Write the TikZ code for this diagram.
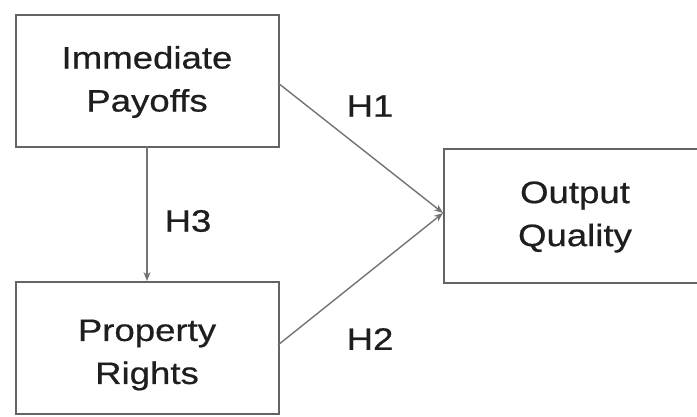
\documentclass[tikz,border=0pt]{standalone}
\usepackage{fontspec}
\setmainfont{Liberation Sans}[FakeStretch=1.18,FakeBold=0.6]
\usetikzlibrary{arrows.meta}
\definecolor{boxline}{RGB}{100,100,100}
\definecolor{arrline}{RGB}{115,115,115}
\definecolor{txt}{RGB}{30,30,30}
\begin{document}
\begin{tikzpicture}[x=1pt,y=-1pt,
  box/.style={draw=boxline,line width=1.8pt,rectangle,inner sep=0pt,anchor=north west},
  lbl/.style={text=txt,align=center,font=\fontsize{31}{43}\selectfont,inner sep=0pt},
  hyp/.style={text=txt,font=\fontsize{31}{38}\selectfont,inner sep=0pt},
  conn/.style={draw=arrline,line width=1.4pt,-{Stealth[length=9pt,width=7pt]}}]
\path[use as bounding box] (0,0) rectangle (697,416);
\clip (0,0) rectangle (697,416);
\node[box,minimum width=263pt,minimum height=132pt] (ip) at (15,14) {};
\node[box,minimum width=263pt,minimum height=132pt] (pr) at (15,281) {};
\node[box,minimum width=280pt,minimum height=134pt] (oq) at (443,148) {};
\node[lbl] (tip) at (147,82) {Immediate\\Payoffs};
\node[lbl] (tpr) at (147,355) {Property\\Rights};
\node[lbl] (toq) at (575,217) {Output\\Quality};
\coordinate (s1) at (278,83);
\coordinate (s2) at (278,345);
\coordinate (e12) at (443,213);
\coordinate (s3) at (147,146);
\coordinate (e3) at (147,281);
\draw[conn] (s1) -- (e12);
\draw[conn] (s2) -- (e12);
\draw[conn] (s3) -- (e3);
\node[hyp] (h1) at (370,106) {H1};
\node[hyp] (h2) at (370,339) {H2};
\node[hyp] (h3) at (188,221) {H3};
\end{tikzpicture}
\end{document}
